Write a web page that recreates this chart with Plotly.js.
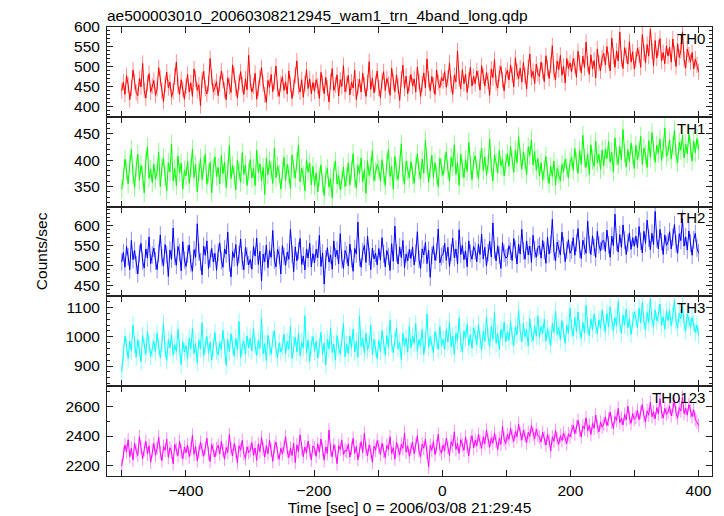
<!DOCTYPE html>
<html><head><meta charset="utf-8">
<script src="https://cdn.plot.ly/plotly-3.0.1.min.js"></script>
<style>html,body{margin:0;padding:0;background:#fff}</style>
</head><body><div id="chart" style="width:724px;height:516px"></div>
<script>
const timeStart = -500, timeEnd = 400;
const chartTitle = 'ae500003010_20060308212945_wam1_trn_4band_long.qdp';
const xTitle = 'Time [sec] 0 = 2006/03/08 21:29:45';
const yTitle = 'Counts/sec';
const bandNames = ['TH0', 'TH1', 'TH2', 'TH3', 'TH0123'];
const bandErr = [20, 18, 22, 30, 46];

const th0 = [
440,462,431,478,455,418,447,492,463,436,428,471,450,509,441,422,459,483,437,452,
466,429,445,498,471,440,413,456,487,448,462,425,439,476,512,453,431,468,444,419,
452,481,437,460,426,495,470,441,455,403,467,489,446,432,458,521,474,438,449,463,
428,457,490,466,442,418,473,451,436,505,479,447,422,461,488,455,431,470,443,529,
461,437,452,484,419,446,472,498,457,430,411,466,449,481,438,463,502,445,426,458,
475,441,463,432,490,456,421,448,479,515,452,437,468,424,457,493,446,470,433,461,
439,468,452,421,486,459,433,474,447,412,463,496,441,455,480,427,468,451,503,438,
456,479,430,462,447,492,418,451,469,437,484,455,426,460,513,444,472,435,458,490,
447,423,465,488,441,471,456,429,497,462,438,480,453,416,469,504,446,477,433,459,
481,452,470,437,499,463,426,458,485,447,520,469,440,476,455,431,492,461,448,473,
465,488,449,472,510,456,431,479,463,540,470,445,493,458,482,436,467,499,452,476,
458,490,471,442,503,477,452,486,465,429,495,473,518,460,447,484,501,468,440,479,
492,467,505,481,450,523,488,470,497,462,511,478,445,499,532,474,489,458,507,483,
476,512,490,463,528,497,471,505,553,486,468,515,493,529,479,502,460,521,496,510,
488,521,503,474,539,510,485,527,498,562,507,481,530,495,516,472,545,509,490,523,
534,505,551,518,490,572,526,499,540,515,587,521,496,548,529,507,563,512,538,495,
518,547,530,499,581,535,510,556,527,594,540,503,566,522,548,571,515,536,508,553,
527,549,512,570,533,501,558,524,541,588,519,497,545,530,512,536,495,520,505,488];

const th1 = [
345,368,402,381,355,392,420,373,348,386,411,362,390,371,338,399,425,366,383,357,
392,364,378,415,350,387,404,369,342,395,378,430,361,384,352,408,376,394,345,381,
370,398,356,385,421,367,392,340,379,403,363,389,411,354,375,396,338,384,406,369,
386,355,409,374,396,348,382,427,365,390,371,344,399,380,358,414,373,391,352,378,
401,366,384,352,419,377,393,361,386,335,404,372,398,381,356,423,367,389,374,345,
379,405,361,392,374,346,410,383,366,397,428,359,385,370,342,401,377,394,353,388,
352,376,340,368,391,357,333,372,384,349,365,328,380,398,355,371,344,362,387,350,
368,395,353,381,412,366,347,390,375,404,359,382,337,399,371,386,418,361,378,392,
383,360,401,374,352,396,420,369,388,345,407,378,363,392,431,371,355,398,381,366,
397,372,356,389,412,380,364,402,375,438,391,358,384,409,367,395,372,349,403,386,
371,394,416,382,360,405,388,429,373,396,352,411,384,367,401,379,434,390,363,398,
408,384,365,399,423,380,406,372,392,440,387,361,410,395,376,418,389,402,370,394,
412,388,426,401,377,419,395,444,406,383,415,398,372,425,409,438,391,416,381,403,
370,395,362,381,407,375,356,388,369,398,353,384,373,361,392,378,402,385,367,396,
405,381,422,397,375,418,392,447,404,386,412,373,429,400,388,436,395,411,382,419,
389,421,403,435,396,415,378,442,408,392,426,401,458,413,387,420,397,432,410,384,
428,401,417,445,392,423,411,386,437,405,452,419,396,428,413,440,399,422,461,407,
415,438,402,427,456,410,395,434,419,447,404,430,412,449,423,398,436,414,441,420];

const th2 = [
508,532,495,547,521,489,562,514,537,501,478,529,555,510,493,541,518,571,504,526,
543,511,489,530,576,519,498,552,527,472,538,515,593,522,500,547,531,486,559,513,
497,528,551,504,485,539,520,604,533,509,476,548,525,561,492,517,542,508,530,487,
532,556,512,495,541,528,583,506,471,534,519,552,498,527,566,511,489,545,523,501,
515,490,547,523,568,502,535,461,528,509,551,494,537,520,587,513,496,540,525,478,
549,522,500,533,515,590,527,484,546,511,536,567,502,523,488,541,518,555,496,529,
506,540,519,575,497,531,453,516,544,508,526,490,561,521,538,503,579,514,492,537,
526,498,553,517,485,542,528,608,519,495,534,550,507,573,522,489,543,516,530,501,
542,513,569,528,496,537,522,487,554,510,598,531,503,546,519,562,494,528,511,540,
517,546,501,530,584,515,492,541,526,557,504,538,470,525,549,512,533,591,506,522,
528,555,512,545,497,532,568,519,541,503,589,527,550,514,536,496,561,530,515,547,
536,509,553,527,578,516,545,498,532,560,521,606,538,511,549,525,492,557,530,518,
521,549,535,512,567,540,503,553,528,590,536,515,561,526,548,507,575,539,520,544,
549,518,562,537,505,571,528,552,615,534,511,558,541,526,583,549,509,537,564,530,
538,569,525,556,592,540,517,563,548,530,611,552,527,574,545,520,585,551,536,560,
562,535,588,551,520,573,549,628,558,533,577,545,601,563,527,556,581,540,569,548,
573,544,597,560,531,585,555,613,568,539,580,552,635,566,541,590,559,527,576,550,
558,584,541,570,602,553,530,579,562,617,548,571,538,586,556,525,564,580,543,531];

const th3 = [
880,945,1002,968,925,985,951,1040,972,930,990,958,915,1005,964,941,1018,975,932,960,
985,947,1012,966,928,978,1045,955,919,990,962,1008,937,972,950,1025,961,905,983,948,
970,925,996,958,1030,942,977,912,988,960,1048,935,969,1001,944,982,920,963,1015,952,
938,980,957,1022,965,902,990,948,1010,971,933,995,956,1052,928,967,985,940,1003,962,
995,951,1028,970,936,988,960,1065,942,977,918,1005,963,940,992,1020,955,930,979,948,
966,1008,942,984,957,1036,925,971,999,948,1012,935,980,962,1072,944,989,917,973,1001,
950,985,927,968,1015,940,979,903,992,958,1030,946,975,920,1004,963,941,987,1046,932,
975,942,1003,961,1026,948,985,930,1070,967,995,944,1012,956,975,1040,938,990,962,925,
988,950,1021,972,938,1005,963,1058,977,945,992,1030,959,980,921,1012,968,995,947,1036,
962,1002,978,1045,951,990,968,1025,940,985,1078,963,1001,975,945,1018,987,957,1035,970,
990,958,1026,981,1050,966,1003,940,1012,987,1065,975,948,1020,996,1042,970,1007,961,1030,
1008,972,1042,990,955,1019,985,1068,1001,966,1035,992,1083,978,1011,957,1026,996,1050,982,
1015,988,1052,1003,970,1033,1006,1090,1018,982,1045,1000,1024,968,1061,1010,987,1038,1002,1072,
998,1035,1012,1060,985,1027,1003,970,1046,1015,1088,1008,1032,990,1055,1021,978,1040,1012,1098,
1030,1002,1066,1018,1085,1027,995,1050,1012,1108,1036,1004,1061,1025,1077,1040,1011,1058,1029,1092,
1048,1015,1080,1034,1102,1050,1020,1066,1038,1120,1045,1012,1075,1040,1095,1030,1062,1008,1055,1085,
1062,1030,1098,1047,1118,1055,1024,1083,1049,1130,1060,1035,1092,1054,1075,1112,1041,1068,1026,1087,
1055,1090,1038,1072,1125,1050,1030,1081,1062,1110,1046,1020,1078,1058,1033,1066,1045,1015,1040,1005];

const th0123 = [
2200,2285,2340,2296,2375,2262,2318,2240,2352,2301,2270,2395,2325,2248,2310,2365,2280,2335,2225,2304,
2350,2272,2318,2392,2290,2236,2330,2305,2380,2258,2322,2294,2215,2345,2310,2270,2365,2298,2247,2326,
2289,2340,2262,2312,2405,2278,2330,2235,2296,2358,2310,2265,2320,2385,2287,2230,2344,2306,2260,2315,
2338,2280,2365,2302,2245,2324,2290,2410,2315,2268,2350,2297,2222,2335,2305,2372,2281,2250,2328,2290,
2305,2356,2271,2320,2238,2347,2296,2390,2312,2260,2335,2282,2374,2308,2231,2325,2360,2288,2245,2318,
2282,2330,2395,2300,2256,2318,2270,2352,2223,2340,2295,2408,2315,2262,2327,2288,2366,2302,2240,2334,
2320,2265,2348,2292,2380,2310,2238,2327,2284,2440,2305,2262,2342,2298,2215,2335,2310,2372,2276,2305,
2298,2345,2260,2318,2385,2285,2330,2242,2306,2362,2290,2418,2315,2268,2340,2296,2225,2332,2305,2370,
2328,2277,2352,2300,2256,2338,2311,2395,2284,2322,2245,2360,2305,2275,2347,2318,2420,2292,2335,2265,
2315,2358,2282,2340,2402,2300,2262,2347,2318,2380,2290,2195,2338,2305,2365,2276,2330,2412,2310,2285,
2340,2302,2385,2325,2270,2362,2335,2428,2310,2350,2285,2375,2340,2305,2395,2330,2268,2358,2402,2320,
2372,2335,2410,2360,2318,2395,2348,2440,2370,2325,2388,2352,2420,2365,2310,2385,2345,2465,2378,2350,
2410,2378,2452,2400,2365,2430,2395,2480,2415,2372,2440,2402,2355,2425,2398,2470,2412,2380,2445,2405,
2392,2360,2425,2385,2340,2410,2372,2300,2395,2365,2438,2380,2345,2402,2370,2420,2388,2350,2415,2395,
2430,2472,2415,2460,2505,2440,2395,2468,2448,2522,2435,2470,2410,2485,2452,2540,2465,2428,2492,2460,
2480,2528,2470,2512,2560,2495,2452,2530,2505,2585,2490,2518,2475,2545,2508,2600,2522,2485,2550,2512,
2525,2572,2510,2558,2610,2535,2495,2568,2540,2625,2530,2562,2515,2590,2548,2650,2560,2520,2585,2545,
2560,2598,2535,2580,2640,2555,2520,2590,2568,2660,2550,2585,2540,2610,2565,2530,2575,2510,2495,2470];

const series = [th0, th1, th2, th3, th0123];
const colors = ['#ff0000', '#00ff00', '#0000ff', '#00ffff', '#ff00ff'];
const errColors = ['rgba(255,0,0,0.45)', 'rgba(0,255,0,0.45)', 'rgba(0,0,255,0.45)', 'rgba(0,255,255,0.45)', 'rgba(255,0,255,0.45)'];
const yRanges = [[375, 600], [312, 482], [422, 647], [831, 1138], [2133, 2733]];
const yMajor = [50, 50, 50, 100, 200];
const yMinor = [10, 10, 10, 20, 100];

const nPts = th0.length;
const times = [];
for (let i = 0; i < nPts; i++) times.push(timeStart + i * (timeEnd - timeStart) / (nPts - 1));

const FONT = 'Liberation Sans, Arial, Helvetica, sans-serif';
const tickFont = {family: FONT, size: 15.5, color: '#000'};
const axColor = '#222';
const traces = [];
const layout = {
  width: 724, height: 516,
  margin: {l: 107, r: 12, t: 27, b: 40},
  paper_bgcolor: '#fff', plot_bgcolor: '#fff',
  showlegend: false,
  font: tickFont,
  annotations: [],
  title: {text: chartTitle, x: 0, xanchor: 'left', xref: 'paper', y: 0.969, yanchor: 'middle',
          font: {family: FONT, size: 15.5, color: '#000'}}
};
const nP = series.length;
const panelH = 1 / nP;
for (let k = 0; k < nP; k++) {
  const sfx = k === 0 ? '' : String(k + 1);
  traces.push({
    x: times, y: series[k], type: 'scatter', mode: 'lines',
    xaxis: 'x' + sfx, yaxis: 'y' + sfx,
    line: {color: colors[k], width: 1},
    error_y: {type: 'constant', value: bandErr[k], color: errColors[k], thickness: 1, width: 0},
    hoverinfo: 'skip'
  });
  const top = 1 - k * panelH, bot = 1 - (k + 1) * panelH;
  const isBottom = k === nP - 1;
  layout['xaxis' + sfx] = {
    anchor: 'y' + sfx, domain: [0, 1], range: [-523, 421],
    showgrid: false, zeroline: false, showline: true, mirror: 'ticks',
    linecolor: axColor, linewidth: 1,
    ticks: 'inside', ticklen: 6, tickcolor: axColor, tickwidth: 1,
    dtick: 200, tick0: 0, showticklabels: isBottom, tickfont: tickFont,
    minor: {dtick: 100, tick0: 0, ticks: 'inside', ticklen: 6, tickcolor: axColor},
    title: isBottom ? {text: xTitle, font: tickFont, standoff: 0} : {text: ''}
  };
  if (k > 0) layout['xaxis' + sfx].matches = 'x';
  layout['yaxis' + sfx] = {
    anchor: 'x' + sfx, domain: [bot, top], range: yRanges[k],
    showgrid: false, zeroline: false, showline: true, mirror: 'ticks',
    linecolor: axColor, linewidth: 1,
    ticks: 'inside', ticklen: 6, tickcolor: axColor, tickwidth: 1,
    dtick: yMajor[k], tick0: 0, tickfont: tickFont, ticklabelstandoff: 3,
    minor: {dtick: yMinor[k], tick0: 0, ticks: 'inside', ticklen: 3, tickcolor: axColor}
  };
  layout.annotations.push({
    text: bandNames[k], xref: 'x' + sfx + ' domain', yref: 'y' + sfx + ' domain',
    x: 0.992, y: 0.99, xanchor: 'right', yanchor: 'top', showarrow: false,
    font: {family: FONT, size: 15, color: '#000'}
  });
}
layout.annotations.push({
  text: yTitle, xref: 'paper', yref: 'paper', x: -0.108, y: 0.5, xanchor: 'center', yanchor: 'middle',
  textangle: -90, showarrow: false, font: tickFont
});
Plotly.newPlot('chart', traces, layout, {displayModeBar: false, staticPlot: true});
</script></body></html>
